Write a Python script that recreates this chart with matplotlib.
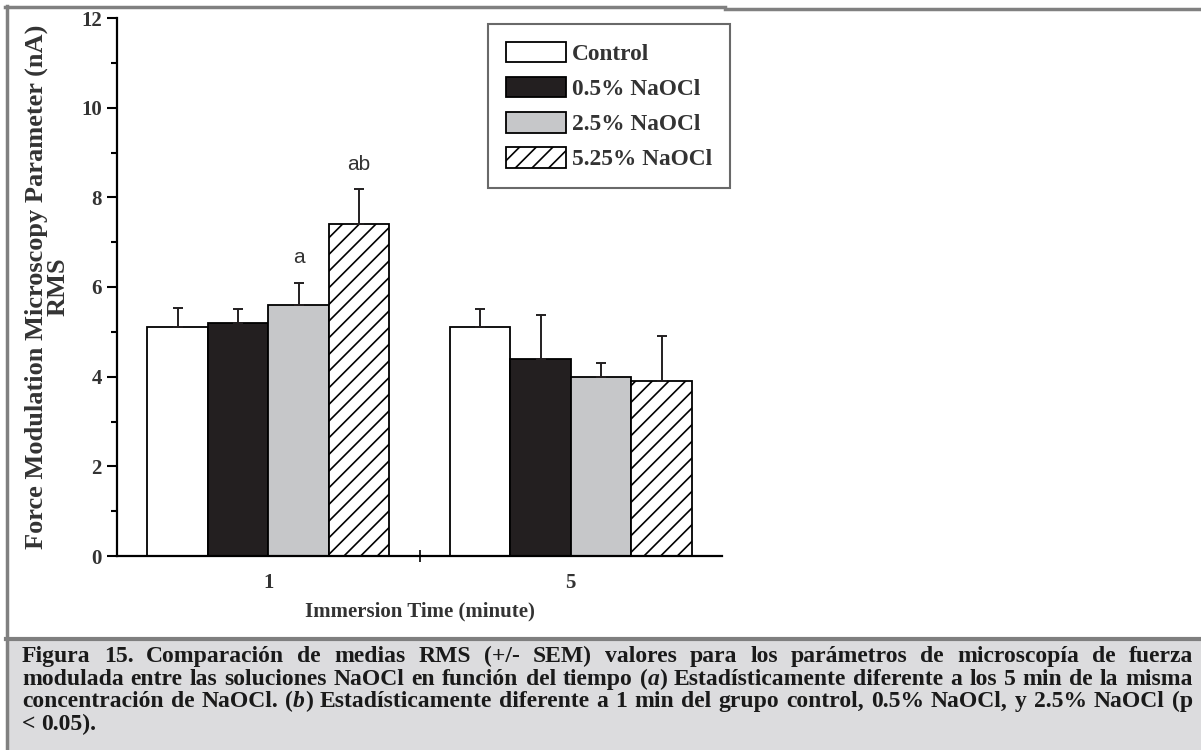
import numpy as np
import matplotlib
matplotlib.use('Agg')
import matplotlib.pyplot as plt
from matplotlib.patches import Rectangle
from matplotlib.lines import Line2D

# datos
times = ['1', '5']
series = ['Control', '0.5% NaOCl', '2.5% NaOCl', '5.25% NaOCl']
control = [5.1, 5.1]
naocl_05 = [5.2, 4.4]
naocl_25 = [5.6, 4.0]
naocl_525 = [7.4, 3.9]
control_sem = [0.43, 0.4]
naocl_05_sem = [0.3, 0.97]
naocl_25_sem = [0.5, 0.3]
naocl_525_sem = [0.78, 1.0]
marks = [(0, 2, 'a'), (0, 3, 'ab')]   # (grupo, serie, letra)

caption_lines = [
    "Figura 15. Comparación de medias RMS (+/- SEM) valores para los parámetros de microscopía de fuerza",
    "modulada entre las soluciones NaOCl en función del tiempo (*a*) Estadísticamente diferente a los  5 min de la misma",
    "concentración de NaOCl. (*b*) Estadísticamente diferente a 1 min del grupo control, 0.5% NaOCl, y 2.5% NaOCl (p",
    "< 0.05).",
]

W, H = 1201, 750
serif = ['Liberation Serif', 'DejaVu Serif']
plt.rcParams['font.family'] = serif
plt.rcParams['hatch.linewidth'] = 1.2

fig = plt.figure(figsize=(W / 100, H / 100), dpi=100)
fig.patch.set_facecolor('white')


def fx(px):
    return px / W


def fy(py):
    return 1 - py / H


# marco gris y caja del pie
fig.add_artist(Rectangle((fx(6), fy(750)), fx(1201) - fx(6), fy(638) - fy(750),
                         transform=fig.transFigure, facecolor='#dcdcde', edgecolor='none'))
fig.add_artist(Line2D([fx(6), fx(1201)], [fy(638.5), fy(638.5)], transform=fig.transFigure,
                      color='#7f7f7f', lw=3))
fig.add_artist(Line2D([fx(5), fx(725)], [fy(7), fy(7)], transform=fig.transFigure,
                      color='#808080', lw=2.5))
fig.add_artist(Line2D([fx(725), fx(1201)], [fy(9), fy(9)], transform=fig.transFigure,
                      color='#808080', lw=2.5))
fig.add_artist(Line2D([fx(6.5), fx(6.5)], [fy(6), fy(750)], transform=fig.transFigure,
                      color='#808080', lw=2.5))

ax = fig.add_axes([fx(117), fy(556), fx(722) - fx(117), fy(18) - fy(556)])
ax.set_facecolor('none')

values = [control, naocl_05, naocl_25, naocl_525]
sems = [control_sem, naocl_05_sem, naocl_25_sem, naocl_525_sem]
colors = ['white', '#231f20', '#c6c7c9', 'white']
hatches = [None, None, None, '//']
width = 0.2
x = np.arange(len(times))
offsets = [-0.3, -0.1, 0.1, 0.3]

for vals, err, c, h, off, name in zip(values, sems, colors, hatches, offsets, series):
    ax.bar(x + off, vals, width, color=c, edgecolor='black', linewidth=1.3,
           hatch=h, label=name, zorder=2)
    ax.errorbar(x + off, vals, yerr=[np.zeros(len(vals)), err], fmt='none',
                ecolor='#231f20', elinewidth=1.4, capsize=3.5, capthick=1.4, zorder=3)

for g, s, txt in marks:
    top = values[s][g] + sems[s][g]
    ax.annotate(txt, (x[g] + offsets[s], top), xytext=(0, 18), textcoords='offset points',
                ha='center', va='center', fontsize=15, family='Liberation Sans', color='#333333')

ax.set_xlim(-0.5, 1.5)
ax.set_ylim(0, 12)
ax.set_yticks(np.arange(0, 13, 2))
ax.set_yticks(np.arange(1, 12, 2), minor=True)
ax.set_xticks(x)
ax.set_xticklabels(times)
ax.set_xticks([0.5], minor=True)
ax.spines['top'].set_visible(False)
ax.spines['right'].set_visible(False)
ax.spines['left'].set_linewidth(1.6)
ax.spines['bottom'].set_linewidth(1.6)
ax.tick_params(axis='y', which='major', length=7, width=1.5, labelsize=15, pad=4)
ax.tick_params(axis='y', which='minor', length=4, width=1.5)
ax.tick_params(axis='x', which='major', length=0, labelsize=15, pad=12)
ax.tick_params(axis='x', which='minor', length=8, width=1.2, direction='inout')
for lab in ax.get_yticklabels() + ax.get_xticklabels():
    lab.set_fontweight('bold')
    lab.set_color('#333333')

ax.set_ylabel('Force Modulation Microscopy Parameter (nA)\nRMS', fontsize=19,
              fontweight='bold', color='#333333', linespacing=0.95, labelpad=8)
ax.set_xlabel('Immersion Time (minute)', fontsize=15, fontweight='bold',
              color='#333333', labelpad=6)

leg = ax.legend(loc='upper left', bbox_to_anchor=(fx(488), fy(24)),
                bbox_transform=fig.transFigure, borderaxespad=0, fancybox=False,
                edgecolor='#444444', handlelength=2.6, handleheight=1.0,
                handletextpad=0.26, labelspacing=0.5, borderpad=0.75,
                prop={'weight': 'bold', 'size': 16.8, 'family': serif})
leg.get_frame().set_linewidth(1.5)
for t in leg.get_texts():
    t.set_color('#333333')

# pie de figura justificado
fig.canvas.draw()
rend = fig.canvas.get_renderer()
cap_kw = dict(fontsize=17, fontweight='bold', color='#1a1a1a')


def tokens(line):
    out = []
    for w in line.split():
        segs = []
        parts = w.split('*')
        for i, p in enumerate(parts):
            if p:
                segs.append((p, 'italic' if i % 2 else 'normal'))
        out.append(segs)
    return out


def seg_w(txt, style):
    t = fig.text(0, 0, txt, fontstyle=style, **cap_kw)
    w = t.get_window_extent(rend).width
    t.remove()
    return w


left, right = 22, 1193
baselines = [662, 685, 707, 730]
for i, (line, yb) in enumerate(zip(caption_lines, baselines)):
    toks = tokens(line)
    widths = [[seg_w(s, st) for s, st in tk] for tk in toks]
    total = sum(sum(w) for w in widths)
    if i < len(caption_lines) - 1:
        gap = (right - left - total) / (len(toks) - 1)
    else:
        gap = seg_w('a a', 'normal') - 2 * seg_w('a', 'normal')
    xp = left
    for tk, ws in zip(toks, widths):
        for (s, st), w in zip(tk, ws):
            fig.text(fx(xp), fy(yb), s, fontstyle=st, ha='left', va='baseline', **cap_kw)
            xp += w
        xp += gap

fig.savefig('out.png', dpi=100)
